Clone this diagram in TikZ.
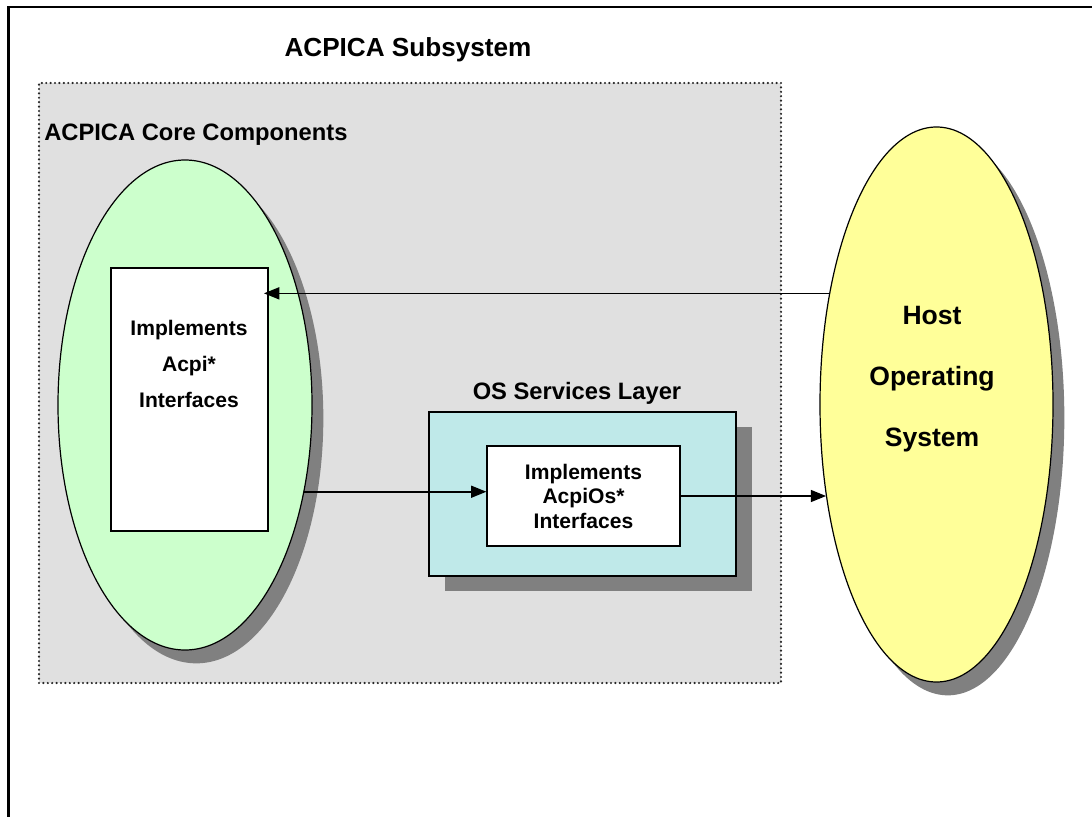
\documentclass[tikz,border=0pt]{standalone}
\usepackage{fontspec}
\setmainfont{Liberation Sans}
\usetikzlibrary{shapes.geometric,shadows,arrows.meta}

\definecolor{subsysgray}{RGB}{224,224,224}
\definecolor{coregreen}{RGB}{204,255,204}
\definecolor{hostyellow}{RGB}{255,255,153}
\definecolor{oscyan}{RGB}{191,233,233}
\definecolor{shadowgray}{RGB}{128,128,128}

\begin{document}
\begin{tikzpicture}
[
 x=0.75pt, y=-0.75pt,
  >={Triangle[length=11.5pt,width=9pt]},
  heading/.style = {font=\fontsize{17.8}{21}\selectfont\bfseries, inner sep=0pt},
  blob/.style = {draw, ellipse, line width=0.9pt, inner sep=0pt,
    drop shadow={shadow xshift=8.5pt, shadow yshift=-10pt, fill=shadowgray, opacity=1}},
  panel/.style = {draw, rectangle, line width=0.9pt, inner sep=0pt},
  flow/.style = {->, line width=1.2pt},
]

\clip (0,0) rectangle (1092,817);
\draw[line width=1.6pt] (8.5,7) rectangle (1120,840);

% subsystem frame
\node (subsys) at (410,383) [fill=subsysgray, draw=black!85, line width=1.8pt, line cap=round,
  dash pattern=on 0pt off 3.3pt, minimum width=556.5pt, minimum height=450pt, inner sep=0pt] {};
\node (title) at (408,50) [heading, font=\fontsize{19.6}{22}\selectfont\bfseries] {ACPICA Subsystem};
\node (corelabel) at (44,135) [heading, anchor=west] {ACPICA Core Components};

% core components
\node (core) at (185,405) [blob, fill=coregreen, minimum width=190.5pt, minimum height=367.5pt] {};
\node (acpibox) at (189.5,399.5) [panel, fill=white, minimum width=117.75pt, minimum height=197.25pt] {};
\node (acpitext) at (189,364) [align=center, font=\fontsize{15.8}{27}\selectfont\bfseries] {Implements\\Acpi*\\Interfaces};

% host
\node (host) at (936.5,404.5) [blob, fill=hostyellow, minimum width=174.75pt, minimum height=416.25pt] {};
\node (hosttext) at (932,379) [align=center, font=\fontsize{19.9}{45.75}\selectfont\bfseries] {Host\\Operating\\System};

% OS services layer
\node (oslabel) at (577,393) [heading] {OS Services Layer};
\node (oslayer) at (582.5,494) [panel, fill=oscyan, minimum width=230.25pt, minimum height=123pt,
  drop shadow={shadow xshift=12pt, shadow yshift=-11.25pt, fill=shadowgray, opacity=1}] {};
\node (osbox) at (583.5,496) [panel, fill=white, minimum width=144.75pt, minimum height=75pt,
  align=center, font=\fontsize{15.8}{18.4}\selectfont\bfseries] {Implements\\AcpiOs*\\Interfaces};

\draw[flow, shorten >=-3.5pt] (host.134) -- (host.134 -| acpibox.east);
\draw[flow] (core.-36) -- (core.-36 -| osbox.west);
\draw[flow] (osbox.east) -- (osbox.east -| host.220);

\end{tikzpicture}
\end{document}
